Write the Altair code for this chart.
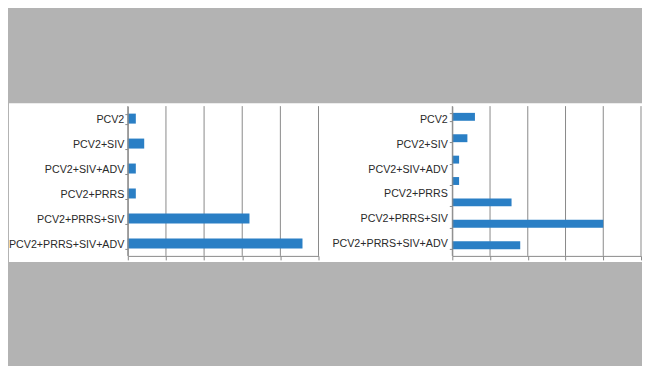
import altair as alt
import pandas as pd

# ---- data ----
left_categories = ["PCV2", "PCV2+SIV", "PCV2+SIV+ADV", "PCV2+PRRS",
                   "PCV2+PRRS+SIV", "PCV2+PRRS+SIV+ADV"]
left_values = [2.1, 4.3, 2.1, 2.1, 31.9, 45.8]

right_labels = ["PCV2", "PCV2+SIV", "PCV2+SIV+ADV", "PCV2+PRRS",
                "PCV2+PRRS+SIV", "PCV2+PRRS+SIV+ADV"]
right_bar_ids = [1, 2, 3, 4, 5, 6, 7]
right_values = [6.0, 4.0, 1.8, 1.8, 15.7, 40.0, 18.0]

x_ticks = [0, 10, 20, 30, 40, 50]

# ---- style ----
BAR = "#2a7fc5"
GRID = "#8a8a8a"
GRAY = "#b3b3b3"
TEXT = "#2a2a2a"
FONT = "Liberation Sans"
FS = 10.7
W_L, W_R, H = 191, 189, 150
LEFT_OFF = 119          # left plot origin inside the svg
SVG_W, SVG_H = 634, 358

xscale = alt.Scale(domain=[0, 50], nice=False, zero=True)


def x_axis():
    return alt.Axis(values=x_ticks, labels=False, grid=False, ticks=True,
                    tickSize=4, tickColor=GRID, domainColor=GRID,
                    title=None, zindex=1)


one = pd.DataFrame({"k": [0]})
ticks_df = pd.DataFrame({"t": x_ticks})

bg = alt.Chart(one).mark_rect(color=GRAY).encode(
    x=alt.value(-LEFT_OFF), x2=alt.value(SVG_W - LEFT_OFF),
    y=alt.value(-98), y2=alt.value(SVG_H - 98))
white = alt.Chart(one).mark_rect(color="white").encode(
    x=alt.value(-LEFT_OFF), x2=alt.value(SVG_W - LEFT_OFF),
    y=alt.value(-3), y2=alt.value(156))


def grid_layer():
    return alt.Chart(ticks_df).mark_rule(color=GRID, strokeWidth=1).encode(
        x=alt.X("t:Q", scale=xscale, axis=x_axis()))


# ---- left panel ----
df_l = pd.DataFrame({"cat": left_categories, "val": left_values})
bars_l = alt.Chart(df_l).mark_bar(color=BAR).encode(
    y=alt.Y("cat:N", sort=left_categories,
            scale=alt.Scale(paddingInner=0.6, paddingOuter=0.3),
            axis=alt.Axis(title=None, tickBand="extent", tickSize=3,
                          labelPadding=1, labelOffset=1, labelFont=FONT,
                          labelFontSize=FS, labelColor=TEXT, domainColor=GRID,
                          tickColor=GRID, labelLimit=0, zindex=1)),
    x=alt.X("val:Q", scale=xscale, axis=x_axis()),
)
left = alt.layer(bg, white, grid_layer(), bars_l).properties(width=W_L, height=H)

# ---- right panel ----
df_r = pd.DataFrame({"id": right_bar_ids, "val": right_values})
df_lab = pd.DataFrame({"lab": right_labels})
bars_r = alt.Chart(df_r).mark_bar(color=BAR).encode(
    y=alt.Y("id:O", scale=alt.Scale(paddingInner=0.63, paddingOuter=0.315),
            axis=alt.Axis(title=None, labels=False, tickBand="extent",
                          tickSize=3, domainColor=GRID, tickColor=GRID,
                          zindex=1)),
    x=alt.X("val:Q", scale=xscale, axis=x_axis()),
)
labels_r = alt.Chart(df_lab).mark_bar(opacity=0).encode(
    y=alt.Y("lab:N", sort=right_labels,
            scale=alt.Scale(paddingInner=0, paddingOuter=0),
            axis=alt.Axis(orient="left", title=None, ticks=False, domain=False,
                          labelPadding=5, labelOffset=1, labelFont=FONT,
                          labelFontSize=FS, labelColor=TEXT, labelLimit=0,
                          zindex=1)),
    x=alt.value(0), x2=alt.value(1),
)
right = alt.layer(grid_layer(), bars_r, labels_r).resolve_scale(
    y="independent").properties(width=W_R, height=H)

chart = alt.hconcat(left, right, spacing=134, bounds="flush", padding=0,
                    background=GRAY).configure_view(strokeWidth=0)

chart.save("out.html", embed_options={"renderer": "svg", "actions": False})
